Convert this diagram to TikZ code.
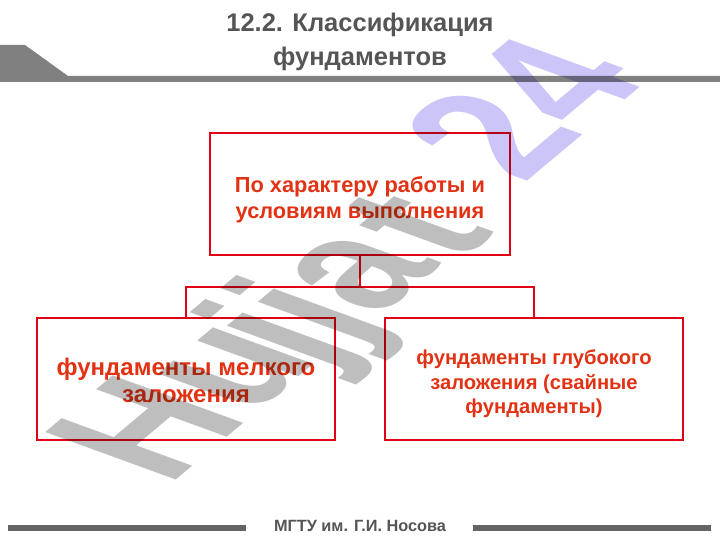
\documentclass[tikz,border=0pt]{standalone}
\usepackage{fontspec}
\setmainfont{Liberation Sans}
\definecolor{titlegray}{RGB}{85,85,85}
\definecolor{bargray}{RGB}{128,128,128}
\definecolor{footgray}{RGB}{100,100,100}
\definecolor{boxred}{RGB}{228,0,20}
\definecolor{txtred}{RGB}{226,50,20}
\definecolor{wmgray}{RGB}{190,190,190}
\definecolor{wmpurple}{RGB}{204,198,248}
\tikzset{
  box/.style={draw=boxred, line width=2.6pt, minimum width=298pt, minimum height=122pt, inner sep=0pt},
  boxtext/.style={text=txtred, align=center, inner sep=0pt},
  conn/.style={draw=boxred, line width=1.3pt},
  ttl/.style={text=titlegray, font=\bfseries\fontsize{25.5}{34}\selectfont, align=center},
  wmletter/.style={transform shape, anchor=base west, inner sep=0pt, font=\bfseries\fontsize{100}{100}\selectfont},
}
% one sheared watermark letter: x, y (pixels from top-left), colour, name, letter
\newcommand{\wmglyph}[5]{%
  \begin{scope}[shift={(#1,#2)}, cm={1.149,0.964,-1.898,0.691,(0,0)}]
    \node[wmletter, text=#3] (#4) at (0,0) {#5};
  \end{scope}}
\begin{document}
\begin{tikzpicture}[x=1pt,y=-1pt]
\useasboundingbox (0,0) rectangle (720,540);
% header
\node[ttl] (title) at (360,42) {12.2. Классификация\\фундаментов};
\fill[bargray] (0,45) -- (25,45) -- (68,76) -- (720,76) -- (720,82) -- (0,82) -- cycle;
% boxes
\node[box, minimum width=300pt] (top) at (360,194) {};
\node[box] (left) at (186,379) {};
\node[box] (right) at (534,379) {};
\node[boxtext, font=\bfseries\fontsize{21.8}{26}\selectfont] (topT) at ([yshift=-5.5pt]top.center) {По характеру работы и\\условиям выполнения};
\node[boxtext, font=\bfseries\fontsize{24}{27}\selectfont] (leftT) at ([yshift=-1pt]left.center) {фундаменты мелкого\\заложения};
\node[boxtext, font=\bfseries\fontsize{20.2}{24.5}\selectfont] (rightT) at ([yshift=-5pt]right.center) {фундаменты глубокого\\заложения (свайные\\фундаменты)};
% connectors
\coordinate (hub) at (360,287);
\draw[conn] (top.south) -- (hub);
\draw[conn] (left.north) |- (hub) -| (right.north);
% footer
\node[text=titlegray, font=\bfseries\fontsize{16.3}{18}\selectfont] (foot) at (360,526) {МГТУ им. Г.И. Носова};
\coordinate (fl1) at (8,528);
\coordinate (fl2) at (246,528);
\coordinate (fr1) at (473,528);
\coordinate (fr2) at (711,528);
\draw[footgray, line width=5.5pt] (fl1) -- (fl2);
\draw[footgray, line width=5.5pt] (fr1) -- (fr2);
% watermark, multiplied over the drawing
\begin{scope}[blend mode=multiply]
  \wmglyph{168}{487}{wmgray}{wmH}{H}
  \wmglyph{251}{417}{wmgray}{wmU}{u}
  \wmglyph{319}{370}{wmgray}{wmJa}{j}
  \wmglyph{350}{346}{wmgray}{wmJb}{j}
  \wmglyph{378}{318}{wmgray}{wmA}{a}
  \wmglyph{458}{264}{wmgray}{wmT}{t}
  \wmglyph{523}{185}{wmpurple}{wmTwo}{2}
  \wmglyph{587}{132}{wmpurple}{wmFour}{4}
\end{scope}
\end{tikzpicture}
\end{document}
